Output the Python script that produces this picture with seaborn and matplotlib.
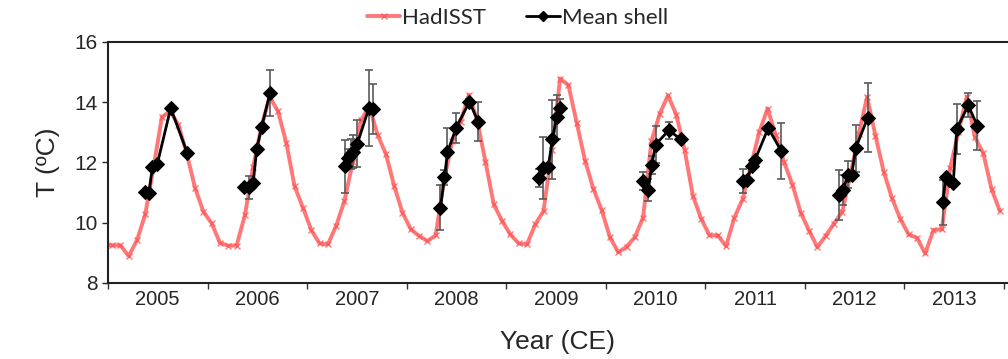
import numpy as np
import pandas as pd
import seaborn as sns
import matplotlib.pyplot as plt
from matplotlib.lines import Line2D

# HadISST monthly SST (Jan..Dec), one list per year; Dec 2004 leads in at the axis
had_dec2004 = 9.25
had_2005 = [9.25, 9.25, 8.89, 9.42, 10.28, 11.85, 13.5, 13.7, 13.24, 12.28, 11.15, 10.37]
had_2006 = [9.98, 9.33, 9.24, 9.24, 10.24, 11.85, 13.2, 14.17, 13.69, 12.64, 11.2, 10.5]
had_2007 = [9.76, 9.31, 9.28, 9.89, 10.72, 12.0, 13.4, 13.85, 12.91, 12.28, 11.22, 10.33]
had_2008 = [9.78, 9.56, 9.39, 9.58, 11.4, 12.7, 13.35, 14.24, 13.4, 12.02, 10.61, 10.06]
had_2009 = [9.61, 9.31, 9.28, 9.94, 10.39, 12.4, 14.78, 14.56, 13.31, 12.06, 11.13, 10.42]
had_2010 = [9.52, 9.02, 9.2, 9.52, 10.17, 12.7, 13.61, 14.22, 13.58, 12.42, 10.89, 10.13]
had_2011 = [9.58, 9.58, 9.22, 10.17, 10.78, 11.9, 13.0, 13.78, 12.9, 12.0, 11.26, 10.33]
had_2012 = [9.74, 9.19, 9.56, 9.97, 10.36, 11.6, 12.95, 14.17, 12.89, 11.69, 10.81, 10.13]
had_2013 = [9.61, 9.5, 8.98, 9.76, 9.78, 11.8, 13.0, 14.17, 12.83, 12.3, 11.11, 10.39]

# Mean shell: decimal year, temperature, error (half bar)
shell_years = [2005, 2006, 2007, 2008, 2009, 2010, 2011, 2012, 2013]
shell_x = [
    [2005.369, 2005.412, 2005.445, 2005.495, 2005.630, 2005.797],
    [2006.369, 2006.416, 2006.459, 2006.494, 2006.544, 2006.627],
    [2007.377, 2007.411, 2007.438, 2007.464, 2007.504, 2007.621, 2007.665],
    [2008.340, 2008.380, 2008.410, 2008.497, 2008.631, 2008.718],
    [2009.329, 2009.372, 2009.422, 2009.463, 2009.507, 2009.540],
    [2010.377, 2010.427, 2010.461, 2010.501, 2010.632, 2010.758],
    [2011.381, 2011.421, 2011.465, 2011.499, 2011.632, 2011.763],
    [2012.342, 2012.386, 2012.430, 2012.470, 2012.510, 2012.631],
    [2013.384, 2013.417, 2013.450, 2013.490, 2013.525, 2013.641, 2013.731],
]
shell_t = [
    [11.03, 10.97, 11.83, 11.94, 13.8, 12.31],
    [11.17, 11.17, 11.33, 12.44, 13.17, 14.3],
    [11.87, 12.15, 12.27, 12.35, 12.61, 13.8, 13.76],
    [10.5, 11.5, 12.33, 13.15, 14.01, 13.35],
    [11.47, 11.8, 11.83, 12.76, 13.5, 13.81],
    [11.39, 11.09, 11.91, 12.59, 13.06, 12.76],
    [11.39, 11.42, 11.89, 12.08, 13.14, 12.37],
    [10.92, 11.08, 11.59, 11.59, 12.47, 13.48],
    [10.67, 11.53, 11.41, 11.3, 13.11, 13.89, 13.22],
]
shell_err = [
    [0, 0, 0, 0, 0, 0],
    [0, 0.39, 0, 0, 0, 0.77],
    [0.87, 0.3, 0.5, 0.55, 0.78, 1.26, 0.83],
    [0.75, 0.25, 0.82, 0.5, 0.1, 0.65],
    [0.3, 1.03, 0, 1.3, 0.72, 0.3],
    [0.3, 0.37, 0.3, 0.6, 0.27, 0],
    [0.39, 0, 0, 0, 0, 0.93],
    [0.83, 0.5, 0.44, 0, 0.78, 1.15],
    [0.75, 0, 0, 0, 0.83, 0.4, 0.82],
]

had_vals = [had_dec2004] + had_2005 + had_2006 + had_2007 + had_2008 + had_2009 \
    + had_2010 + had_2011 + had_2012 + had_2013
had_x = 2005 + (np.arange(len(had_vals)) - 1 + 0.5) / 12
had = pd.DataFrame({"x": had_x, "T": had_vals})

rows = []
for yr, xs, ts, es in zip(shell_years, shell_x, shell_t, shell_err):
    for x, t, e in zip(xs, ts, es):
        rows.append({"year": yr, "x": x, "T": t, "err": e})
shell = pd.DataFrame(rows)

sns.set_style("ticks")
plt.rcParams['font.family'] = ['Liberation Sans', 'DejaVu Sans']

fig = plt.figure(figsize=(10.08, 3.59), dpi=100)
ax = fig.add_axes([0.1071, 0.2117, 0.8929, 0.6721])

red = "#ff5555"
sns.lineplot(data=had, x="x", y="T", ax=ax, color=red, lw=2.8, alpha=0.8,
             marker="x", markersize=5, markeredgecolor=red, markeredgewidth=1)

e = shell[shell["err"] > 0]
ax.errorbar(e["x"], e["T"], yerr=e["err"], fmt="none", ecolor="#5a5a5a",
            elinewidth=1.2, capsize=3, capthick=1.2, zorder=3)
sns.lineplot(data=shell, x="x", y="T", units="year", estimator=None, ax=ax,
             color="black", lw=2, marker="D", markersize=7,
             markeredgecolor="black", zorder=4)

ax.set_xlim(2005, 2014.04)
ax.set_ylim(8, 16)
ax.set_yticks([8, 10, 12, 14, 16])
ax.set_xticks(np.arange(2005, 2015))
ax.set_xticklabels([])
ax.set_xticks(np.arange(2005, 2014) + 0.5, minor=True)
ax.set_xticklabels([str(y) for y in range(2005, 2014)], minor=True)
ax.tick_params(axis="x", which="minor", length=0, labelsize=14.5, pad=5)
ax.tick_params(axis="x", which="major", length=4, width=1, color="#333333")
ax.tick_params(axis="y", labelsize=15, length=4, width=1)

for s in ["left", "bottom", "top"]:
    ax.spines[s].set_color("#222222")
    ax.spines[s].set_linewidth(1.5)
ax.spines["right"].set_visible(False)

ax.set_xlabel("Year (CE)", fontsize=19, labelpad=15)
ax.set_ylabel("T (ºC)", fontsize=19, labelpad=10)

handles = [
    Line2D([], [], color=red, lw=2.8, alpha=0.8, marker="x", markersize=5),
    Line2D([], [], color="black", lw=2, marker="D", markersize=5),
]
ax.legend(handles, ["HadISST", "Mean shell"], loc="center",
          bbox_to_anchor=(0.455, 1.10), ncol=2, frameon=False,
          handlelength=1.5, handletextpad=0.1, columnspacing=1.8,
          prop={"family": "Lato", "size": 16})

fig.savefig("out.png", dpi=100)
